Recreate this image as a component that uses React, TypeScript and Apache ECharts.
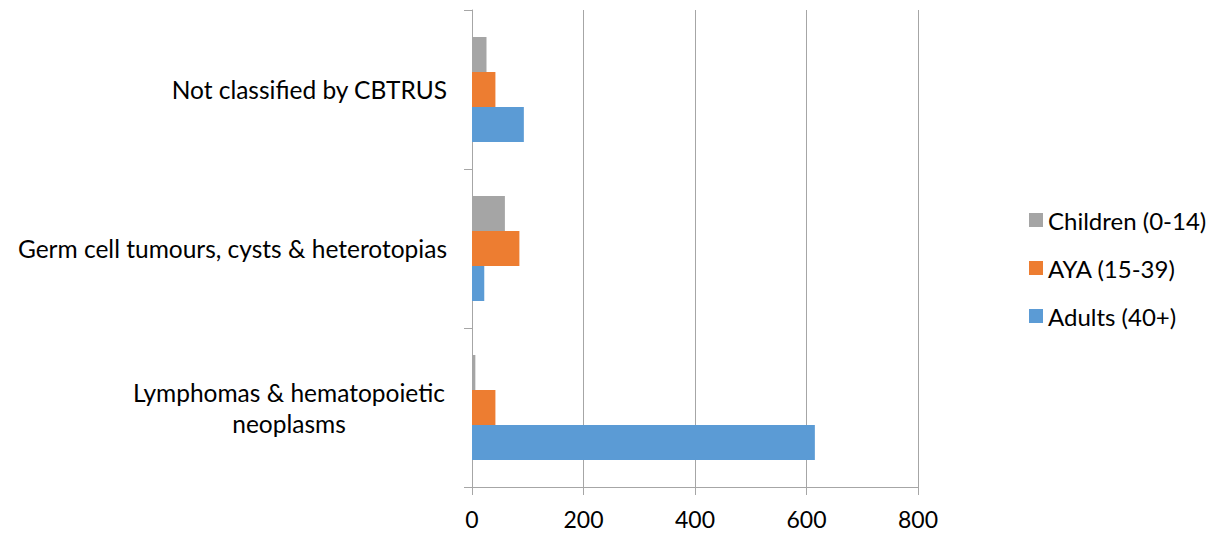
import React, { useEffect, useRef } from "react";
import * as echarts from "echarts";

const categories = [
  "Lymphomas & hematopoietic neoplasms",
  "Germ cell tumours, cysts & heterotopias",
  "Not classified by CBTRUS",
];
const seriesNames = ["Children (0-14)", "AYA (15-39)", "Adults (40+)"];
const children = [6, 59, 26];
const aya = [42, 85, 42];
const adults = [615, 22, 93];
const xTicks = [0, 200, 400, 600, 800];

const FONT = "Lato";
const FS = 24.5;
const GRAY_LINE = "#a6a6a6";

export default function App() {
  const ref = useRef<HTMLDivElement>(null);
  useEffect(() => {
    if (!ref.current) return;
    const chart = echarts.init(ref.current, undefined, { renderer: "svg" });
    chart.setOption({
      animation: false,
      textStyle: { fontFamily: FONT, color: "#000" },
      grid: { left: 464, right: 292, top: 2, bottom: 46, containLabel: false },
      legend: {
        orient: "vertical",
        left: 1016,
        top: 195,
        itemWidth: 14,
        itemHeight: 14,
        itemGap: 24,
        icon: "rect",
        data: [seriesNames[0], seriesNames[1], seriesNames[2]],
        textStyle: { fontFamily: FONT, fontSize: 24, color: "#000" },
      },
      xAxis: {
        type: "value",
        min: xTicks[0],
        max: xTicks[xTicks.length - 1],
        interval: 200,
        axisLine: { show: true, lineStyle: { color: GRAY_LINE, width: 1 } },
        axisTick: { show: true, length: 8, lineStyle: { color: GRAY_LINE } },
        splitLine: { show: true, lineStyle: { color: GRAY_LINE, width: 1 } },
        axisLabel: { fontFamily: FONT, fontSize: 23, color: "#000", margin: 20 },
      },
      yAxis: {
        type: "category",
        data: categories,
        axisLine: { show: true, lineStyle: { color: GRAY_LINE, width: 1 } },
        axisTick: { show: true, length: 8, lineStyle: { color: GRAY_LINE } },
        axisLabel: {
          fontFamily: FONT,
          fontSize: FS,
          color: "#000",
          margin: 25,
          lineHeight: 31,
          formatter: (v: string) =>
            v === categories[0]
              ? "{c|Lymphomas & hematopoietic}\n{c|neoplasms}"
              : v,
          rich: {
            c: {
              width: 316,
              align: "center",
              fontFamily: FONT,
              fontSize: FS,
              color: "#000",
              lineHeight: 31,
            },
          },
        },
      },
      series: [
        {
          name: seriesNames[0],
          type: "bar",
          data: children,
          barWidth: 35,
          barGap: "0%",
          itemStyle: { color: "#a5a5a5" },
        },
        {
          name: seriesNames[1],
          type: "bar",
          data: aya,
          barWidth: 35,
          barGap: "0%",
          itemStyle: { color: "#ed7d31" },
        },
        {
          name: seriesNames[2],
          type: "bar",
          data: adults,
          barWidth: 35,
          barGap: "0%",
          itemStyle: { color: "#5b9bd5" },
        },
      ],
    });
    return () => chart.dispose();
  }, []);
  return <div ref={ref} style={{ width: 1202, height: 525 }} />;
}
